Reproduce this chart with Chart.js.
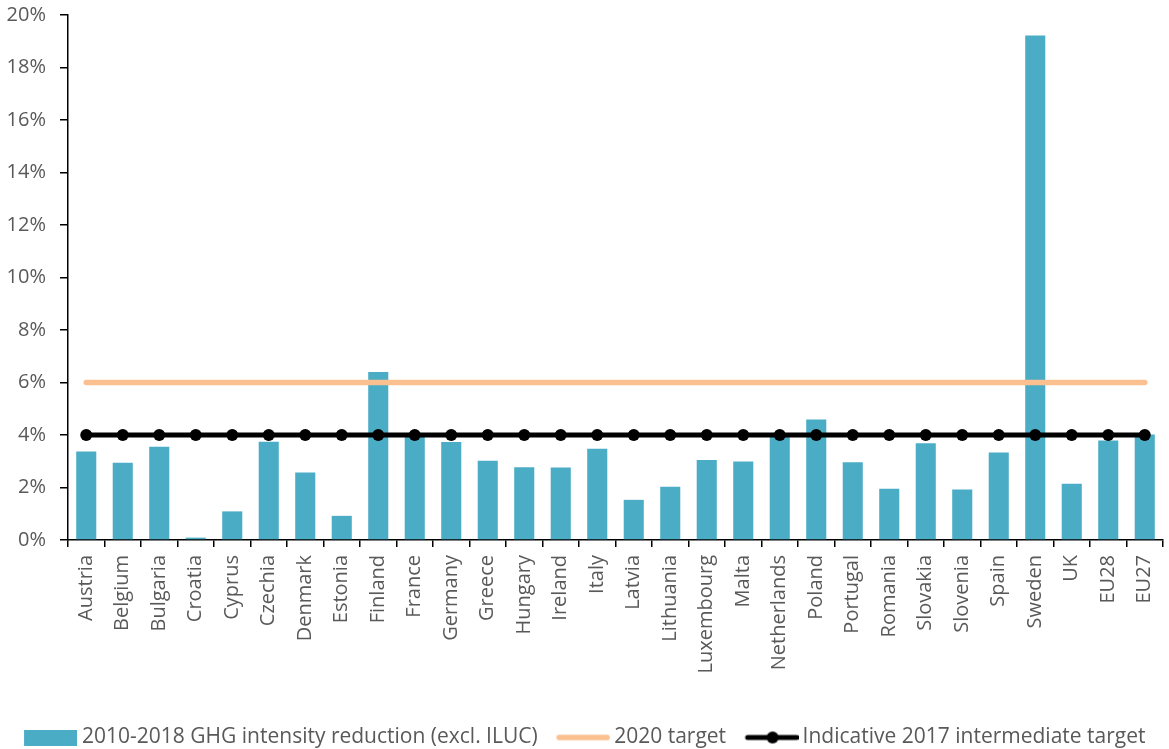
<!DOCTYPE html>
<html>
<head>
<meta charset="utf-8">
<script src="https://cdn.jsdelivr.net/npm/chart.js@4"></script>
<style>
  html, body { margin: 0; padding: 0; background: #fff; }
  #wrap { width: 1169px; height: 749px; }
</style>
</head>
<body>
<div id="wrap"><canvas id="ghgChart" width="1169" height="749"></canvas></div>
<script>
const countries = ['Austria', 'Belgium', 'Bulgaria', 'Croatia', 'Cyprus', 'Czechia', 'Denmark', 'Estonia',
  'Finland', 'France', 'Germany', 'Greece', 'Hungary', 'Ireland', 'Italy', 'Latvia', 'Lithuania',
  'Luxembourg', 'Malta', 'Netherlands', 'Poland', 'Portugal', 'Romania', 'Slovakia', 'Slovenia',
  'Spain', 'Sweden', 'UK', 'EU28', 'EU27'];
const reduction = [3.37, 2.94, 3.55, 0.09, 1.09, 3.74, 2.57, 0.92, 6.40, 3.95, 3.73, 3.02, 2.77, 2.76, 3.48,
  1.53, 2.03, 3.05, 2.99, 3.95, 4.59, 2.96, 1.95, 3.69, 1.92, 3.33, 19.22, 2.14, 3.79, 4.02];
const target2020 = countries.map(() => 6);
const target2017 = countries.map(() => 4);
const yTicks = [0, 2, 4, 6, 8, 10, 12, 14, 16, 18, 20];

const TEAL = '#4BACC6';
const ORANGE = '#FAC090';
const FONT = "'Open Sans', sans-serif";

// legend swatches: 54px mark in the right part of a 63px canvas,
// the legend centres it in a 50px box (pointStyleWidth)
function swatch(draw) {
  const c = document.createElement('canvas');
  c.width = 63; c.height = 16;
  const g = c.getContext('2d');
  g.translate(9, 0);
  draw(g);
  return c;
}
const barSwatch = swatch(g => { g.fillStyle = TEAL; g.fillRect(0, 0, 53, 16); });
const orangeSwatch = swatch(g => {
  g.strokeStyle = ORANGE; g.lineWidth = 5.5; g.lineCap = 'round';
  g.beginPath(); g.moveTo(3, 8); g.lineTo(51, 8); g.stroke();
});
const blackSwatch = swatch(g => {
  g.strokeStyle = '#000'; g.lineWidth = 5; g.lineCap = 'round';
  g.beginPath(); g.moveTo(3, 8); g.lineTo(52, 8); g.stroke();
  g.fillStyle = '#000'; g.beginPath(); g.arc(28, 8, 6, 0, Math.PI * 2); g.fill();
});
const swatches = [barSwatch, orangeSwatch, blackSwatch];

const ctx = document.getElementById('ghgChart').getContext('2d');
new Chart(ctx, {
  type: 'bar',
  data: {
    labels: countries,
    datasets: [
      {
        label: '2010-2018 GHG intensity reduction (excl. ILUC)',
        data: reduction,
        backgroundColor: TEAL,
        barPercentage: 0.55,
        categoryPercentage: 1,
        order: 3
      },
      {
        type: 'line',
        label: '2020 target',
        data: target2020,
        borderColor: ORANGE,
        borderWidth: 5.5,
        borderCapStyle: 'round',
        pointRadius: 0,
        order: 2
      },
      {
        type: 'line',
        label: 'Indicative 2017 intermediate target',
        data: target2017,
        borderColor: '#000',
        backgroundColor: '#000',
        borderWidth: 5,
        pointRadius: 6,
        pointBackgroundColor: '#000',
        pointBorderWidth: 0,
        order: 1
      }
    ]
  },
  options: {
    responsive: false,
    animation: false,
    layout: { padding: { left: 0, right: 2, top: 0, bottom: -9 } },
    plugins: {
      tooltip: { enabled: false },
      legend: {
        position: 'bottom',
        labels: {
          color: '#595959',
          font: { family: FONT, size: 21 },
          usePointStyle: true,
          pointStyleWidth: 50,
          padding: 16,
          generateLabels: (chart) => chart.data.datasets.map((ds, i) => ({
            text: ds.label,
            pointStyle: swatches[i],
            fillStyle: 'transparent',
            strokeStyle: 'transparent',
            lineWidth: 0,
            fontColor: '#595959',
            datasetIndex: i
          }))
        }
      }
    },
    scales: {
      x: {
        afterFit: (axis) => { axis.height = 171; axis.paddingLeft = 0; axis.paddingRight = 0; },
        grid: { drawOnChartArea: false, drawTicks: true, tickLength: 7, color: '#000', lineWidth: 1.5 },
        border: { color: '#000', width: 1.5 },
        ticks: {
          color: '#595959',
          font: { family: FONT, size: 20 },
          maxRotation: 90,
          minRotation: 90,
          autoSkip: false,
          padding: 8
        }
      },
      y: {
        min: 0,
        max: 20,
        afterFit: (axis) => { axis.width = 68; axis.paddingTop = 15; },
        afterBuildTicks: (axis) => { axis.ticks = yTicks.map(v => ({ value: v })); },
        grid: { drawOnChartArea: false, drawTicks: true, tickLength: 8, color: '#000', lineWidth: 1.5 },
        border: { color: '#000', width: 1.5 },
        ticks: {
          color: '#595959',
          font: { family: FONT, size: 20 },
          padding: 14,
          callback: (v) => v + '%'
        }
      }
    }
  }
});
</script>
</body>
</html>
